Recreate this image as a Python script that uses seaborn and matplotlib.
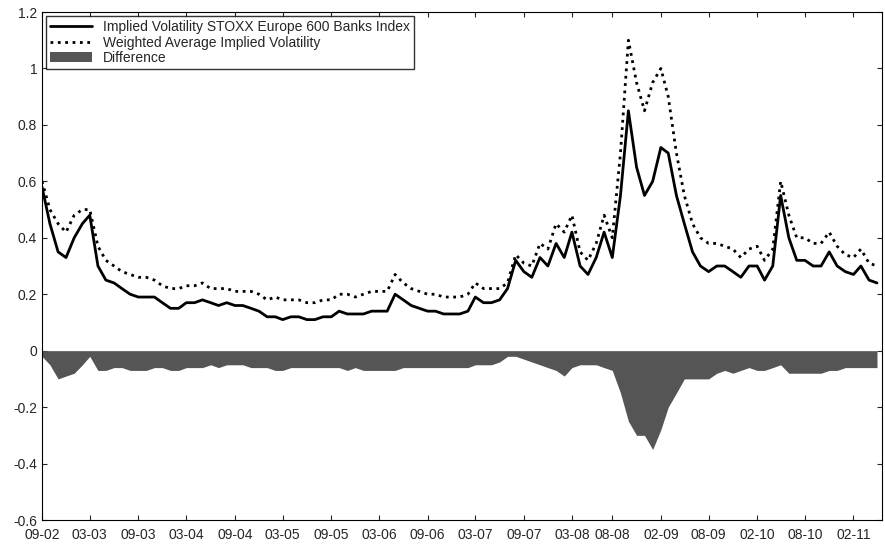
import matplotlib
matplotlib.use("Agg")
import matplotlib.pyplot as plt
import numpy as np
import pandas as pd
import seaborn as sns

# monthly readings, Sep 2002 .. May 2011
implied_vol = [
    0.58, 0.45, 0.35, 0.33,
    0.40, 0.45, 0.48, 0.30, 0.25, 0.24, 0.22, 0.20, 0.19, 0.19, 0.19, 0.17,
    0.15, 0.15, 0.17, 0.17, 0.18, 0.17, 0.16, 0.17, 0.16, 0.16, 0.15, 0.14,
    0.12, 0.12, 0.11, 0.12, 0.12, 0.11, 0.11, 0.12, 0.12, 0.14, 0.13, 0.13,
    0.13, 0.14, 0.14, 0.14, 0.20, 0.18, 0.16, 0.15, 0.14, 0.14, 0.13, 0.13,
    0.13, 0.14, 0.19, 0.17, 0.17, 0.18, 0.22, 0.32, 0.28, 0.26, 0.33, 0.30,
    0.38, 0.33, 0.42, 0.30, 0.27, 0.33, 0.42, 0.33, 0.55, 0.85, 0.65, 0.55,
    0.60, 0.72, 0.70, 0.55, 0.45, 0.35, 0.30, 0.28, 0.30, 0.30, 0.28, 0.26,
    0.30, 0.30, 0.25, 0.30, 0.55, 0.40, 0.32, 0.32, 0.30, 0.30, 0.35, 0.30,
    0.28, 0.27, 0.30, 0.25, 0.24,
]
weighted_vol = [
    0.60, 0.50, 0.45, 0.42,
    0.48, 0.50, 0.50, 0.37, 0.32, 0.30, 0.28, 0.27, 0.26, 0.26, 0.25, 0.23,
    0.22, 0.22, 0.23, 0.23, 0.24, 0.22, 0.22, 0.22, 0.21, 0.21, 0.21, 0.20,
    0.18, 0.19, 0.18, 0.18, 0.18, 0.17, 0.17, 0.18, 0.18, 0.20, 0.20, 0.19,
    0.20, 0.21, 0.21, 0.21, 0.27, 0.24, 0.22, 0.21, 0.20, 0.20, 0.19, 0.19,
    0.19, 0.20, 0.24, 0.22, 0.22, 0.22, 0.24, 0.34, 0.31, 0.30, 0.38, 0.36,
    0.45, 0.42, 0.48, 0.35, 0.32, 0.38, 0.48, 0.40, 0.70, 1.10, 0.95, 0.85,
    0.95, 1.00, 0.90, 0.70, 0.55, 0.45, 0.40, 0.38, 0.38, 0.37, 0.36, 0.33,
    0.36, 0.37, 0.32, 0.36, 0.60, 0.48, 0.40, 0.40, 0.38, 0.38, 0.42, 0.37,
    0.34, 0.33, 0.36, 0.31, 0.30,
]
tick_labels = ["09-02", "03-03", "09-03", "03-04", "09-04", "03-05", "09-05", "03-06",
               "09-06", "03-07", "09-07", "03-08", "08-08", "02-09", "08-09", "02-10",
               "08-10", "02-11"]

dates = pd.date_range("2002-09-01", periods=len(implied_vol), freq="MS")
df = pd.DataFrame({"date": dates, "iv": implied_vol, "wa": weighted_vol})
df["diff"] = df["iv"] - df["wa"]

sns.set_style("ticks")
plt.rcParams["font.family"] = ["Liberation Sans", "DejaVu Sans"]

fig = plt.figure(figsize=(8.85, 5.48), dpi=100)
ax = fig.add_axes([42 / 885, 28 / 548, 840 / 885, 508 / 548])

ax.fill_between(df["date"], 0, df["diff"], color="#555555", lw=0, label="Difference")
sns.lineplot(data=df, x="date", y="iv", ax=ax, color="black", lw=2,
             label="Implied Volatility STOXX Europe 600 Banks Index")
sns.lineplot(data=df, x="date", y="wa", ax=ax, color="black", lw=2, ls=":",
             label="Weighted Average Implied Volatility")

tick_dates = [pd.to_datetime("01-" + t, format="%d-%m-%y") for t in tick_labels]
ax.set_xticks(tick_dates)
ax.set_xticklabels(tick_labels, fontsize=10)
ax.set_xlim(pd.Timestamp("2002-09-01"), pd.Timestamp("2011-05-20"))
ax.set_ylim(-0.6, 1.2)
ax.set_yticks(np.arange(-0.6, 1.21, 0.2))
ax.set_yticklabels(["-0.6", "-0.4", "-0.2", "0", "0.2", "0.4", "0.6", "0.8", "1", "1.2"], fontsize=10)
ax.set_xlabel("")
ax.set_ylabel("")
ax.tick_params(direction="in", top=True, right=True)
ax.tick_params(axis="x", pad=6)
for s in ax.spines.values():
    s.set_color("black")

h, l = ax.get_legend_handles_labels()
order = [l.index("Implied Volatility STOXX Europe 600 Banks Index"),
         l.index("Weighted Average Implied Volatility"), l.index("Difference")]
ax.legend([h[i] for i in order], [l[i] for i in order], loc="upper left", fontsize=10,
          frameon=True, fancybox=False, edgecolor="black", borderaxespad=0.3,
          handlelength=3, labelspacing=0.1, borderpad=0.3)

fig.savefig("out.png", dpi=100)
